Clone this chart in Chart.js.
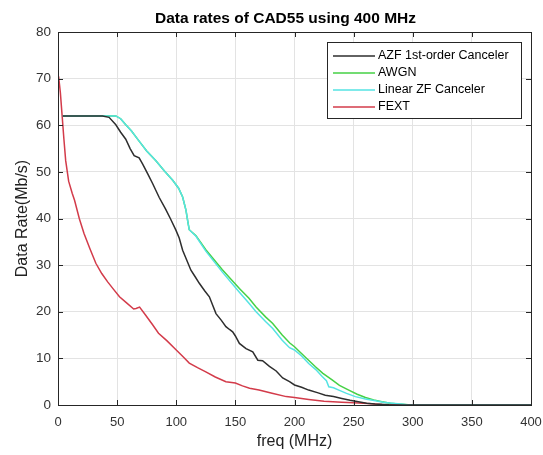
<!DOCTYPE html>
<html lang="en">
<head>
    <meta charset="UTF-8">
    <title>Data rates of CAD55</title>
    <script src="https://cdn.jsdelivr.net/npm/chart.js"></script>
    <style>
        body {
            margin: 0;
            background-color: #ffffff;
        }
        .chart-box {
            width: 543px;
            height: 455px;
        }
    </style>
</head>
<body>

<div class="chart-box">
    <canvas id="rateChart"></canvas>
</div>

<script>
    // Series (freq in MHz, rate in Mb/s)
    const azfFreq = [4, 10, 20, 30, 37.6, 43.2, 48.9, 53, 57.3, 61, 64.4, 68.6, 71.5, 76, 80, 85.6, 91, 95, 99.7, 102.5, 105.4, 109, 112.4, 116, 119.5, 124, 128, 133.6, 138, 142, 145, 147.7, 150, 153.4, 159, 164.7, 169, 173, 178.8, 184.5, 190, 195.8, 200, 206, 212, 220, 226, 233, 240, 247, 254, 261, 268, 280, 300, 400];
    const azfRate = [62, 62, 62, 62, 62, 61.7, 60.1, 58.5, 57, 55, 53.5, 53, 51.7, 49.5, 47.5, 44.5, 42, 40, 37.5, 35.8, 33.2, 31, 28.9, 27.5, 26.1, 24.5, 23.2, 19.6, 18.2, 16.8, 16.2, 15.7, 14.8, 13.2, 12.1, 11.4, 9.6, 9.5, 8.3, 7.3, 5.8, 5.0, 4.3, 3.8, 3.2, 2.6, 2.1, 1.8, 1.4, 1.0, 0.7, 0.4, 0.2, 0.05, 0, 0];

    const awgnFreq = [4, 20, 40, 48.9, 53, 57.3, 62, 68.6, 75, 82.8, 90, 97, 102, 105.4, 107, 108.2, 110, 111, 116.7, 125, 139, 153.4, 161.5, 167.5, 175.5, 181.6, 189.6, 196, 200, 209, 217.7, 224, 231.8, 238, 245.9, 253, 260, 267, 274, 281, 288, 299, 320, 400];
    const awgnRate = [62, 62, 62, 62, 61.4, 60.1, 58.8, 56.6, 54.5, 52.4, 50.2, 48.2, 46.5, 44.6, 43, 41.8, 39, 37.6, 36.3, 33.3, 29, 25, 22.9, 21.0, 18.9, 17.5, 15.0, 13.3, 12.5, 10.3, 8.2, 6.8, 5.4, 4.2, 3.2, 2.3, 1.6, 1.1, 0.7, 0.4, 0.2, 0, 0, 0];

    const zfFreq = [4, 20, 40, 48.9, 53, 57.3, 62, 68.6, 75, 82.8, 90, 97, 102, 105.4, 107, 108.2, 110, 111, 116.7, 125, 139, 153.4, 161.5, 167.5, 175.5, 181.6, 189.6, 195.8, 200, 206, 212, 218, 223.4, 227, 229, 233, 237.5, 244, 251.5, 260, 268.4, 275, 282.5, 290, 296.6, 310, 400];
    const zfRate = [62, 62, 62, 62, 61.4, 60.1, 58.8, 56.6, 54.5, 52.4, 50.2, 48.2, 46.5, 44.6, 43, 41.8, 39, 37.6, 36.2, 33.0, 28.5, 24.2, 21.8, 20.0, 17.9, 16.4, 13.9, 12.3, 11.8, 10.5, 8.9, 7.6, 6.1, 5.2, 3.9, 3.7, 3.2, 2.5, 1.8, 1.3, 0.9, 0.6, 0.4, 0.2, 0, 0, 0];

    const fextFreq = [0.5, 2, 3.5, 5, 6.5, 9, 12, 14, 18, 22, 27, 32, 37, 42, 47, 52, 58, 64, 66, 69, 74, 80, 85, 92, 100, 106, 111, 118, 125, 133, 142, 150, 156, 162, 170, 181, 193, 200, 212, 225, 240, 250, 262, 274, 290, 320, 360, 400];
    const fextRate = [70.5, 67, 62, 57, 52.4, 48, 45.4, 43.9, 40, 36.8, 33.5, 30.4, 28.2, 26.4, 24.8, 23.2, 21.9, 20.6, 20.7, 21, 19.3, 17.2, 15.4, 13.8, 11.8, 10.3, 9.0, 8.0, 7.1, 6.0, 5.0, 4.7, 4.1, 3.6, 3.2, 2.5, 1.8, 1.6, 1.2, 0.8, 0.6, 0.5, 0.3, 0.1, 0.05, 0.02, 0, 0];

    const chartTitle = 'Data rates of CAD55 using 400 MHz';
    const seriesNames = ['AZF 1st-order Canceler', 'AWGN', 'Linear ZF Canceler', 'FEXT'];
    const seriesColors = ['#2e2e2e', '#45d145', '#55e3e3', '#d33b4a'];
    const xTicks = [0, 50, 100, 150, 200, 250, 300, 350, 400];
    const yTicks = [0, 10, 20, 30, 40, 50, 60, 70, 80];

    const toPoints = (xs, ys) => xs.map((x, i) => ({ x: x, y: ys[i] }));
    const allFreq = [azfFreq, awgnFreq, zfFreq, fextFreq];
    const allRate = [azfRate, awgnRate, zfRate, fextRate];
    const FONT = 'Arial, "Liberation Sans", sans-serif';

    // frame, inward ticks, title over the axes and boxed legend, MATLAB look
    const matlabFrame = {
        id: 'matlabFrame',
        afterDatasetsDraw(chart) {
            const { ctx, chartArea: a, scales } = chart;
            ctx.save();
            ctx.strokeStyle = '#262626';
            ctx.lineWidth = 1;
            ctx.strokeRect(a.left + 0.5, a.top + 0.5, a.right - a.left, a.bottom - a.top);
            ctx.beginPath();
            xTicks.forEach(v => {
                const px = Math.round(scales.x.getPixelForValue(v)) + 0.5;
                ctx.moveTo(px, a.bottom); ctx.lineTo(px, a.bottom - 5);
                ctx.moveTo(px, a.top); ctx.lineTo(px, a.top + 5);
            });
            yTicks.forEach(v => {
                const py = Math.round(scales.y.getPixelForValue(v)) + 0.5;
                ctx.moveTo(a.left, py); ctx.lineTo(a.left + 5, py);
                ctx.moveTo(a.right, py); ctx.lineTo(a.right - 5, py);
            });
            ctx.stroke();

            // title, centred a little left of the axes centre like the original
            ctx.fillStyle = '#000';
            ctx.font = 'bold 15.5px ' + FONT;
            ctx.textAlign = 'center';
            ctx.textBaseline = 'middle';
            ctx.fillText(chartTitle, (a.left + a.right) / 2 - 9, 18.5);

            // legend box
            const bx = 327, by = 42, bw = 194, bh = 76;
            ctx.fillStyle = '#ffffff';
            ctx.fillRect(bx, by, bw, bh);
            ctx.strokeStyle = '#262626';
            ctx.strokeRect(bx + 0.5, by + 0.5, bw, bh);
            ctx.font = '12.5px ' + FONT;
            ctx.textAlign = 'left';
            seriesNames.forEach((name, i) => {
                const y = by + 14 + i * 17;
                ctx.strokeStyle = seriesColors[i];
                ctx.lineWidth = 1.5;
                ctx.beginPath();
                ctx.moveTo(bx + 6, y); ctx.lineTo(bx + 48, y);
                ctx.stroke();
                ctx.fillStyle = '#000';
                ctx.fillText(name, bx + 51, y);
            });
            ctx.restore();
        }
    };

    const ctx = document.getElementById('rateChart').getContext('2d');
    new Chart(ctx, {
        type: 'line',
        data: {
            datasets: seriesNames.map((name, i) => ({
                label: name,
                data: toPoints(allFreq[i], allRate[i]),
                borderColor: seriesColors[i],
                borderWidth: 1.5,
                pointRadius: 0,
                fill: false,
                tension: 0,
                order: i === 1 ? 1 : 0
            }))
        },
        options: {
            responsive: true,
            maintainAspectRatio: false,
            animation: false,
            layout: { padding: { top: 32, right: 0, bottom: 0, left: 0 } },
            plugins: {
                legend: { display: false },
                tooltip: { enabled: false },
                title: { display: false }
            },
            scales: {
                x: {
                    type: 'linear',
                    min: 0,
                    max: 400,
                    afterBuildTicks: s => { s.ticks = xTicks.map(v => ({ value: v })); },
                    afterFit: s => { s.height = 50; s.paddingRight = 12; s.paddingLeft = 0; },
                    grid: { color: '#e3e3e3', drawTicks: false },
                    border: { display: false },
                    ticks: {
                        padding: 10,
                        color: '#333',
                        font: { family: FONT, size: 13 }
                    },
                    title: {
                        display: true,
                        text: 'freq (MHz)',
                        color: '#222',
                        padding: { top: 0 },
                        font: { family: FONT, size: 16 }
                    }
                },
                y: {
                    min: 0,
                    max: 80,
                    afterBuildTicks: s => { s.ticks = yTicks.map(v => ({ value: v })); },
                    afterFit: s => { s.width = 58; s.paddingTop = 0; },
                    grid: { color: '#e3e3e3', drawTicks: false },
                    border: { display: false },
                    ticks: {
                        padding: 7,
                        color: '#333',
                        font: { family: FONT, size: 13.5 }
                    },
                    title: {
                        display: true,
                        text: 'Data Rate(Mb/s)',
                        color: '#222',
                        padding: { top: 13, bottom: 0 },
                        font: { family: FONT, size: 16 }
                    }
                }
            }
        },
        plugins: [matlabFrame]
    });
</script>

</body>
</html>
